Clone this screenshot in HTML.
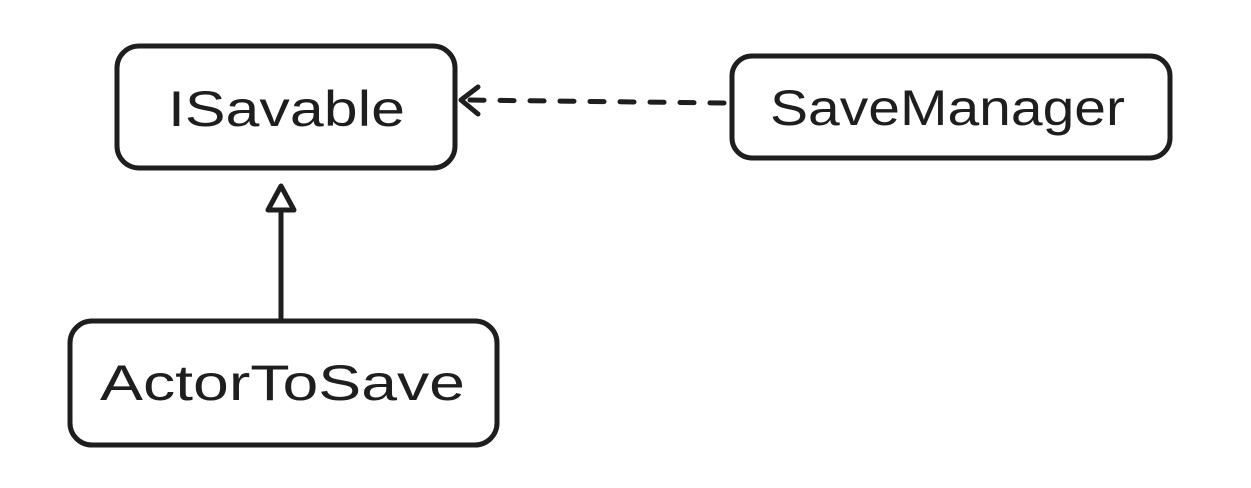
<!DOCTYPE html>
<html><head><meta charset="utf-8"><style>
body{margin:0;background:#fff;}
svg{display:block}
text{font-family:"Liberation Sans",sans-serif;font-size:50px;fill:#1e1e1e}
</style></head><body>
<svg width="1251" height="488" viewBox="0 0 1251 488" xmlns="http://www.w3.org/2000/svg">
<g fill="none" stroke="#1e1e1e" stroke-width="5" stroke-linecap="round" stroke-linejoin="round">
<rect x="117" y="46" width="338" height="122" rx="22"/>
<rect x="732" y="56" width="438" height="102" rx="20"/>
<rect x="70" y="321" width="427" height="124" rx="22"/>
<line x1="281" y1="318" x2="281" y2="212"/>
<path d="M281 186 L294 210 L268 210 Z"/>
<path d="M724 103 L465 100" stroke-dasharray="14 16"/>
<path d="M478 87 L461 100 L478 114"/>
</g>
<text x="168" y="126" textLength="237" lengthAdjust="spacingAndGlyphs">ISavable</text>
<text x="770" y="125" textLength="355" lengthAdjust="spacingAndGlyphs">SaveManager</text>
<text x="100" y="400" textLength="365" lengthAdjust="spacingAndGlyphs">ActorToSave</text>
</svg>
</body></html>
